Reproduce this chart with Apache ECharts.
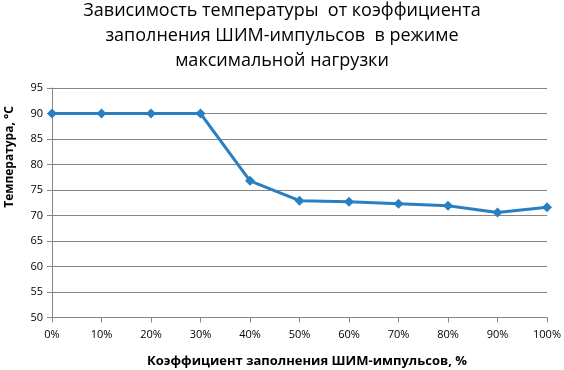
<!DOCTYPE html>
<html><head><meta charset="utf-8">
<script src="https://cdn.jsdelivr.net/npm/echarts@6/dist/echarts.min.js"></script>
<style>html,body{margin:0;padding:0;background:#fff}#c{width:564px;height:370px}</style>
</head><body><div id="c"></div>
<script>
const categories = ['0%','10%','20%','30%','40%','50%','60%','70%','80%','90%','100%'];
const temperature = [90, 90, 90, 90, 76.8, 72.9, 72.7, 72.3, 71.9, 70.6, 71.6];
const titleText = 'Зависимость температуры  от коэффициента\nзаполнения ШИМ-импульсов  в режиме\nмаксимальной нагрузки';
const xName = 'Коэффициент заполнения ШИМ-импульсов, %';
const yName = 'Температура, °C';
const FONT = '"Open Sans", "Noto Sans", sans-serif';
const chart = echarts.init(document.getElementById('c'));
chart.setOption({
  animation: false,
  backgroundColor: '#fff',
  grid: { left: 52, right: 16, top: 88, bottom: 52.5, containLabel: false },
  xAxis: {
    type: 'category', data: categories, boundaryGap: false,
    axisLine: { lineStyle: { color: '#868686', width: 1 } },
    axisTick: { show: true, alignWithLabel: true, length: 5, lineStyle: { color: '#868686' } },
    axisLabel: { fontFamily: FONT, fontSize: 11, color: '#000', margin: 12 },
    splitLine: { show: false }
  },
  yAxis: {
    type: 'value', min: 50, max: 95, interval: 5,
    axisLine: { show: true, lineStyle: { color: '#868686', width: 1 } },
    axisTick: { show: true, length: 5, lineStyle: { color: '#868686' } },
    axisLabel: { fontFamily: FONT, fontSize: 11, color: '#000', margin: 9 },
    splitLine: { show: true, lineStyle: { color: '#868686', width: 1 } }
  },
  graphic: [
    { type: 'text', x: 282, y: -2, style: { text: titleText, font: '18px ' + FONT, fill: '#000', textAlign: 'center', textVerticalAlign: 'top', lineHeight: 25 } },
    { type: 'text', x: 307, y: 355, style: { text: xName, font: 'bold 13px ' + FONT, fill: '#000', textAlign: 'center', textVerticalAlign: 'top' } },
    { type: 'text', x: 4, y: 157, rotation: Math.PI / 2, style: { text: yName, font: 'bold 12px ' + FONT, fill: '#000', textAlign: 'center', textVerticalAlign: 'top' } }
  ],
  series: [{
    type: 'line', data: temperature,
    lineStyle: { color: '#2A7FC0', width: 3 },
    itemStyle: { color: '#2A7FC0' },
    symbol: 'diamond', symbolSize: 10, showSymbol: true
  }]
});
</script></body></html>
